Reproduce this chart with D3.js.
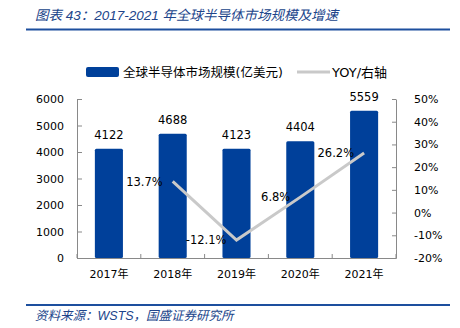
<!DOCTYPE html>
<html><head><meta charset="utf-8">
<script src="https://cdn.jsdelivr.net/npm/d3@7"></script>
<style>
body{margin:0;background:#fff;}
svg{display:block;}
</style></head>
<body>
<svg id="chart" width="460" height="328"></svg>
<script>
const years = ["2017年","2018年","2019年","2020年","2021年"];
const marketSize = [4122,4688,4123,4404,5559];
const yoy = [null,13.7,-12.1,6.8,26.2];
const leftTicks = [0,1000,2000,3000,4000,5000,6000];
const rightTicks = [-20,-10,0,10,20,30,40,50];
const titleText = "图表 43：2017-2021 年全球半导体市场规模及增速";
const sourceText = "资料来源：WSTS，国盛证券研究所";
const legendBar = "全球半导体市场规模(亿美元)";
const legendLine = "YOY/右轴";

(function(){
const svg = d3.select("#chart");
const font = "'DejaVu Sans','Noto Sans CJK SC',sans-serif";
const barColor = "#00409a";
const lineColor = "#c9c9c9";
const axisColor = "#898989";
const headColor = "#1d4f9e";

const pL = 77, pR = 396, pT = 99, pB = 258;

// title
svg.append("text").attr("x",35).attr("y",20)
  .attr("font-family","'Liberation Sans','Noto Sans CJK SC',sans-serif")
  .attr("font-style","italic")
  .attr("font-size",13.5).attr("fill","#20448a").text(titleText);
svg.append("line").attr("x1",26).attr("x2",450).attr("y1",29.5).attr("y2",29.5)
  .attr("stroke",headColor).attr("stroke-width",2);
// footer
svg.append("line").attr("x1",26).attr("x2",450).attr("y1",305).attr("y2",305)
  .attr("stroke",headColor).attr("stroke-width",2);
svg.append("text").attr("x",35).attr("y",320)
  .attr("font-family","'Liberation Sans','Noto Sans CJK SC',sans-serif")
  .attr("font-style","italic")
  .attr("font-size",12.5).attr("fill","#20448a").text(sourceText);

// scales
const x = d3.scaleBand().domain(years).range([pL,pR]).paddingInner(0.56).paddingOuter(0.28);
const yL = d3.scaleLinear().domain([0,6000]).range([pB,pT]);
const yR = d3.scaleLinear().domain([-20,50]).range([pB,pT]);

// left axis
const gL = svg.append("g").attr("transform",`translate(${pL},0)`)
  .call(d3.axisLeft(yL).tickValues(leftTicks).tickFormat(d3.format("d")).tickSizeInner(-5).tickSizeOuter(0).tickPadding(13));
// right axis
const gR = svg.append("g").attr("transform",`translate(${pR},0)`)
  .call(d3.axisRight(yR).tickValues(rightTicks).tickFormat(d=>d+"%").tickSizeInner(-4).tickSizeOuter(0).tickPadding(18));
// bottom axis
const gB = svg.append("g").attr("transform",`translate(0,${pB})`)
  .call(d3.axisBottom(x).tickSize(0).tickPadding(10));
[gL,gR,gB].forEach(g=>{
  g.selectAll("path,line").attr("stroke",axisColor);
  g.selectAll("text").attr("font-family",font).attr("font-size",11).attr("fill","#000");
});
gB.selectAll("text").attr("dy","0.9em");
// boundary ticks on x axis
const bounds = years.map(d=>x(d)-x.step()*x.paddingInner()/2).concat([pR]);
bounds[0] = pL;
svg.append("g").selectAll("line").data(bounds).join("line")
  .attr("x1",d=>d).attr("x2",d=>d).attr("y1",pB).attr("y2",pB-4)
  .attr("stroke",axisColor);

// bars
svg.append("g").selectAll("rect").data(marketSize).join("rect")
  .attr("x",(d,i)=>x(years[i])).attr("width",x.bandwidth())
  .attr("y",d=>yL(d)).attr("height",d=>pB-yL(d))
  .attr("rx",1.5).attr("fill",barColor);
svg.append("g").selectAll("text").data(marketSize).join("text")
  .attr("x",(d,i)=>x(years[i])+x.bandwidth()/2).attr("y",d=>yL(d)-10)
  .attr("text-anchor","middle").attr("font-family",font).attr("font-size",11.5)
  .attr("fill","#000").text(d=>d);

// line
const pts = yoy.map((v,i)=>({v,i})).filter(p=>p.v!==null);
const line = d3.line().x(p=>x(years[p.i])+x.bandwidth()/2).y(p=>yR(p.v));
svg.append("path").datum(pts).attr("d",line).attr("fill","none")
  .attr("stroke",lineColor).attr("stroke-width",3);
svg.append("g").selectAll("text").data(pts).join("text")
  .attr("x",p=>x(years[p.i])+x.bandwidth()/2-10).attr("y",p=>yR(p.v))
  .attr("dy","0.36em").attr("text-anchor","end")
  .attr("font-family",font).attr("font-size",11.5).attr("fill","#000")
  .text(p=>p.v.toFixed(1)+"%");

// legend
svg.append("rect").attr("x",86).attr("y",67).attr("width",33).attr("height",10)
  .attr("rx",2).attr("fill",barColor);
svg.append("text").attr("x",123).attr("y",76.5).attr("font-family",font)
  .attr("font-size",12.5).attr("fill","#000").text(legendBar);
svg.append("line").attr("x1",297).attr("x2",330).attr("y1",72).attr("y2",72)
  .attr("stroke",lineColor).attr("stroke-width",3);
svg.append("text").attr("x",332).attr("y",76.5).attr("font-family",font)
  .attr("font-size",13).attr("fill","#000").text(legendLine);
})();
</script>
</body></html>
